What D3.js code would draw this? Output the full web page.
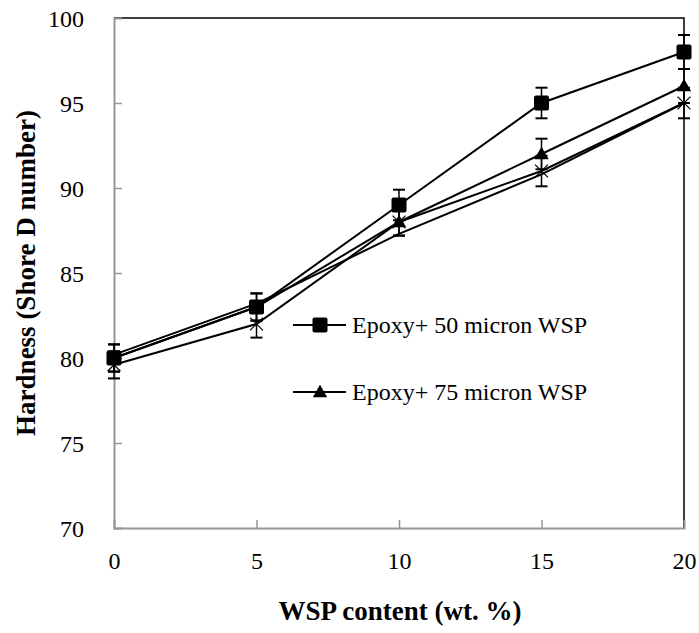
<!DOCTYPE html>
<html>
<head>
<meta charset="utf-8">
<script src="https://cdn.jsdelivr.net/npm/d3@7"></script>
<style>
  body { margin: 0; background: #fff; }
</style>
</head>
<body>
<svg id="chart" width="699" height="633"></svg>
<script>
// WSP content (wt. %)
const xValues = [0, 5, 10, 15, 20];
const xTicks = [0, 5, 10, 15, 20];
const yTicks = [70, 75, 80, 85, 90, 95, 100];

// hardness
const hard50 = [80, 83, 89, 95, 98];
const err50 = [0.8, 0.8, 0.9, 0.9, 1.0];
const hard75 = [80, 83, 88, 92, 96];
const err75 = [0.8, 0.8, 0.8, 0.9, 1.0];
const hardX = [79.6, 82, 88, 91, 95];
const errX = [0.8, 0.8, 0.8, 0.9, 0.9];
// plain line with no marker
const hardPlain = [80.2, 83.2, 87.3, 90.8, 95];

const legendNames = ['Epoxy+ 50 micron WSP', 'Epoxy+ 75 micron WSP'];

const WIDTH = 699, HEIGHT = 633;
const MARGIN = { left: 114, top: 18, right: 15, bottom: 105 };
const FONT = 'Liberation Serif';

const svg = d3.select('#chart')
    .attr('font-family', FONT);

const scaleX = d3.scaleLinear()
    .domain([0, 20])
    .range([MARGIN.left, WIDTH - MARGIN.right]);

const scaleY = d3.scaleLinear()
    .domain([70, 100])
    .range([HEIGHT - MARGIN.bottom, MARGIN.top]);

const x0 = scaleX(0), x1 = scaleX(20), y0 = scaleY(70), y1 = scaleY(100);

// plot frame: black on top / right, gray axes left / bottom
svg.append('path')
    .attr('d', `M${x0},${y1}H${x1}V${y0}`)
    .attr('fill', 'none')
    .attr('stroke', '#000')
    .attr('stroke-width', 1.5);

// Y axis
const yAxis = d3.axisLeft(scaleY)
    .tickValues(yTicks)
    .tickSize(-8)
    .tickPadding(30);
const gy = svg.append('g')
    .attr('transform', `translate(${x0},0)`)
    .call(yAxis)
    .attr('font-family', FONT)
    .attr('font-size', 24);
gy.select('.domain').attr('stroke', '#969696').attr('stroke-width', 2);
gy.selectAll('.tick line').attr('stroke', '#969696').attr('stroke-width', 1.5)
    .filter(d => d === 70 || d === 100).remove();
gy.selectAll('.tick text').attr('fill', '#000').attr('dy', '0.34em');

// X axis
const xAxis = d3.axisBottom(scaleX)
    .tickValues(xTicks)
    .tickSize(-8)
    .tickPadding(24);
const gx = svg.append('g')
    .attr('transform', `translate(0,${y0})`)
    .call(xAxis)
    .attr('font-family', FONT)
    .attr('font-size', 24);
gx.select('.domain').attr('stroke', '#969696').attr('stroke-width', 2);
gx.selectAll('.tick line').attr('stroke', '#969696').attr('stroke-width', 1.5)
    .filter(d => d === 0 || d === 20).remove();
gx.selectAll('.tick text').attr('fill', '#000');

// axis titles
svg.append('text')
    .attr('transform', `translate(35,${(y0 + y1) / 2}) rotate(-90)`)
    .attr('text-anchor', 'middle')
    .attr('font-size', 27)
    .attr('font-weight', 'bold')
    .text('Hardness (Shore D number)');

svg.append('text')
    .attr('x', 400)
    .attr('y', 620)
    .attr('text-anchor', 'middle')
    .attr('font-size', 27)
    .attr('font-weight', 'bold')
    .text('WSP content (wt. %)');

const series = [
    { values: hardPlain, err: null, marker: null },
    { values: hardX, err: errX, marker: 'x' },
    { values: hard75, err: err75, marker: 'triangle' },
    { values: hard50, err: err50, marker: 'square' }
];

const line = d3.line()
    .x(d => scaleX(d[0]))
    .y(d => scaleY(d[1]));

const plot = svg.append('g');

series.forEach(s => {
    plot.append('path')
        .datum(xValues.map((x, i) => [x, s.values[i]]))
        .attr('d', line)
        .attr('fill', 'none')
        .attr('stroke', '#000')
        .attr('stroke-width', 2);
});

// error bars
series.filter(s => s.err).forEach(s => {
    const bars = plot.append('g')
        .selectAll('g')
        .data(xValues.map((x, i) => ({ x: x, y: s.values[i], e: s.err[i] })))
        .join('g');
    bars.append('line')
        .attr('x1', d => scaleX(d.x)).attr('x2', d => scaleX(d.x))
        .attr('y1', d => scaleY(d.y - d.e)).attr('y2', d => scaleY(d.y + d.e))
        .attr('stroke', '#000').attr('stroke-width', 1.5);
    [-1, 1].forEach(sign => {
        bars.append('line')
            .attr('x1', d => scaleX(d.x) - 6).attr('x2', d => scaleX(d.x) + 6)
            .attr('y1', d => scaleY(d.y + sign * d.e)).attr('y2', d => scaleY(d.y + sign * d.e))
            .attr('stroke', '#000').attr('stroke-width', 2);
    });
});

function drawMarker(g, type, cx, cy) {
    if (type === 'square') {
        g.append('rect')
            .attr('x', cx - 7.5).attr('y', cy - 7.5)
            .attr('width', 15).attr('height', 15)
            .attr('rx', 2)
            .attr('fill', '#000');
    } else if (type === 'triangle') {
        g.append('path')
            .attr('d', d3.symbol().type(d3.symbolTriangle).size(90)())
            .attr('transform', `translate(${cx},${cy + 1})`)
            .attr('fill', '#000');
    } else if (type === 'x') {
        g.append('path')
            .attr('d', d3.symbol().type(d3.symbolTimes).size(110)())
            .attr('transform', `translate(${cx},${cy})`)
            .attr('fill', 'none')
            .attr('stroke', '#000')
            .attr('stroke-width', 1.2);
    }
}

series.filter(s => s.marker).forEach(s => {
    const g = plot.append('g');
    xValues.forEach((x, i) => drawMarker(g, s.marker, scaleX(x), scaleY(s.values[i])));
});

// legend
const legendMarkers = ['square', 'triangle'];
const legend = svg.append('g');
legendNames.forEach((name, i) => {
    const ly = 325 + i * 67;
    legend.append('line')
        .attr('x1', 293).attr('x2', 346)
        .attr('y1', ly).attr('y2', ly)
        .attr('stroke', '#000').attr('stroke-width', 2);
    drawMarker(legend, legendMarkers[i], 320, ly);
    legend.append('text')
        .attr('x', 352)
        .attr('y', ly + 8)
        .attr('font-size', 24)
        .text(name);
});
</script>
</body>
</html>
